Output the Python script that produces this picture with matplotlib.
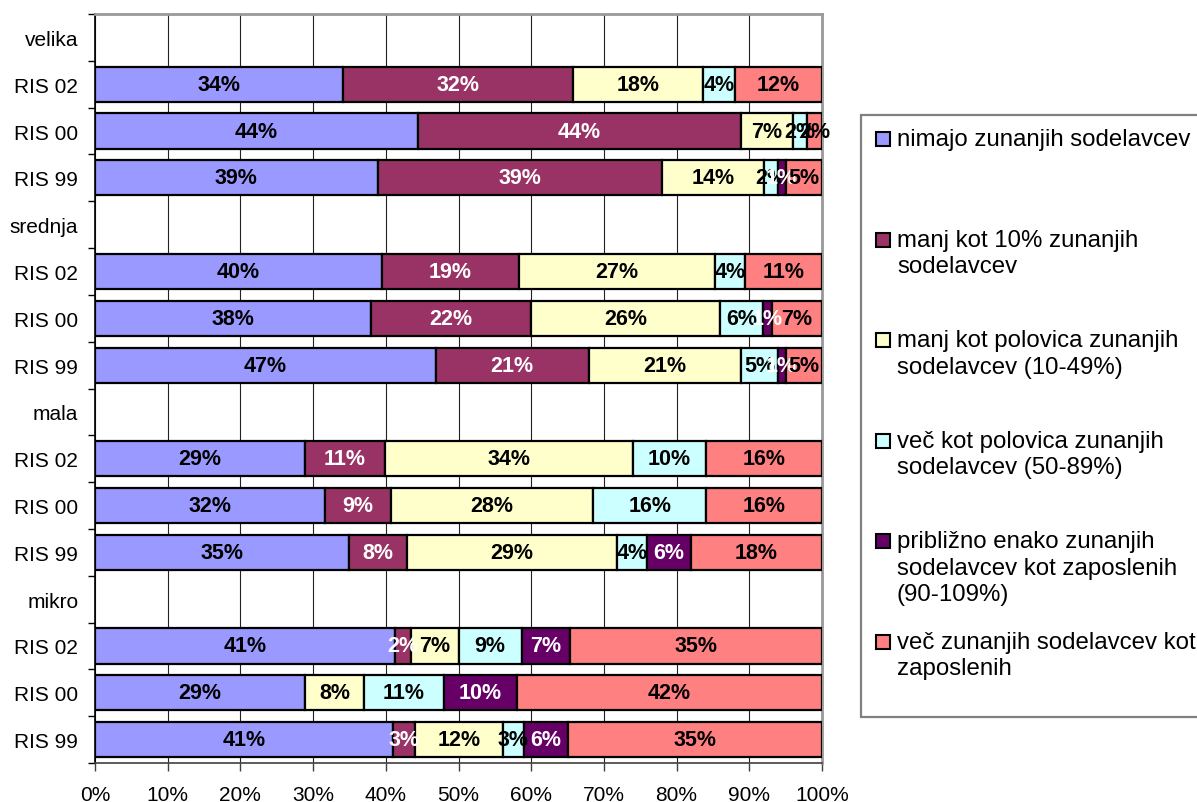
import matplotlib
matplotlib.use("Agg")
import matplotlib.pyplot as plt
from matplotlib.patches import Rectangle
from matplotlib.ticker import FuncFormatter, FixedLocator
import numpy as np

plt.rcParams['font.family'] = ['Liberation Sans', 'DejaVu Sans']

row_labels = ['velika', 'RIS 02', 'RIS 00', 'RIS 99',
              'srednja', 'RIS 02', 'RIS 00', 'RIS 99',
              'mala', 'RIS 02', 'RIS 00', 'RIS 99',
              'mikro', 'RIS 02', 'RIS 00', 'RIS 99']

series_names = ['nimajo zunanjih sodelavcev',
                'manj kot 10% zunanjih\nsodelavcev',
                'manj kot polovica zunanjih\nsodelavcev (10-49%)',
                'več kot polovica zunanjih\nsodelavcev (50-89%)',
                'približno enako zunanjih\nsodelavcev kot zaposlenih\n(90-109%)',
                'več zunanjih sodelavcev kot\nzaposlenih']

nimajo      = [0, 34.1, 44.4, 38.9, 0, 39.5, 38.0, 46.9, 0, 28.9, 31.6, 34.9, 0, 41.3, 28.9, 41.0]
manj10      = [0, 31.6, 44.4, 39.1, 0, 18.8, 22.0, 21.0, 0, 11.0, 9.1, 8.0, 0, 2.1, 0.0, 3.0]
polovica    = [0, 17.9, 7.2, 14.0, 0, 27.0, 26.0, 21.0, 0, 34.1, 27.8, 28.9, 0, 6.6, 8.1, 12.1]
vec_pol     = [0, 4.4, 1.9, 1.9, 0, 4.1, 5.9, 5.0, 0, 10.0, 15.6, 4.1, 0, 8.7, 11.0, 2.9]
priblizno   = [0, 0.0, 0.0, 1.1, 0, 0.0, 1.2, 1.1, 0, 0.0, 0.0, 6.1, 0, 6.7, 10.0, 6.0]
vec_zun     = [0, 12.0, 2.1, 5.0, 0, 10.6, 6.9, 5.0, 0, 16.0, 15.9, 18.0, 0, 34.6, 42.0, 35.0]

series = [nimajo, manj10, polovica, vec_pol, priblizno, vec_zun]
colors = ['#9999FF', '#993366', '#FFFFCC', '#CCFFFF', '#660066', '#FF8080']
text_colors = ['black', 'white', 'black', 'black', 'white', 'black']

W, H = 1197, 803
fig = plt.figure(figsize=(W / 100, H / 100), dpi=100)
ax = fig.add_axes([95 / W, 1 - 764 / H, (822 - 95) / W, (764 - 15) / H])

y = np.arange(len(row_labels))
left = np.zeros(len(row_labels))
for vals, col, tcol in zip(series, colors, text_colors):
    vals = np.array(vals, dtype=float)
    mask = vals > 0
    ax.barh(y[mask], vals[mask], left=left[mask], height=0.75, color=col,
            edgecolor='black', linewidth=1.6, zorder=3)
    for yi, v, l in zip(y[mask], vals[mask], left[mask]):
        ax.text(l + v / 2, yi, f'{int(round(v))}%', ha='center', va='center',
                fontsize=15.5, fontweight='bold', color=tcol, zorder=5)
    left += vals

ax.set_xlim(0, 100)
ax.set_ylim(len(row_labels) - 0.5, -0.5)

ax.xaxis.set_major_locator(FixedLocator(np.arange(0, 101, 10)))
ax.xaxis.set_major_formatter(FuncFormatter(lambda v, p: f'{int(v)}%'))
ax.tick_params(axis='x', direction='out', length=6, width=1, labelsize=15, pad=10, color='#404040')

ax.yaxis.set_major_locator(FixedLocator(np.arange(-0.5, len(row_labels), 1)))
ax.yaxis.set_major_formatter(FuncFormatter(lambda v, p: ''))
ax.yaxis.set_minor_locator(FixedLocator(y))
ax.set_yticklabels(row_labels, minor=True)
ax.tick_params(axis='y', which='major', direction='out', length=5, width=1, color='black')
ax.tick_params(axis='y', which='minor', length=0, labelsize=15, pad=12)

ax.xaxis.grid(True, color='#222222', linewidth=0.8, zorder=0)
ax.set_axisbelow(True)

ax.spines['left'].set_color('black')
ax.spines['left'].set_linewidth(1.2)
ax.spines['bottom'].set_color('#404040')
ax.spines['bottom'].set_linewidth(1.2)
for s in ('top', 'right'):
    ax.spines[s].set_color('#999999')
    ax.spines[s].set_linewidth(2)

# Legend (manual, Excel-like layout)
def fx(px):
    return px / W

def fy(px):
    return 1 - px / H

fig.patches.append(Rectangle((fx(861), fy(718)), fx(1220) - fx(861), fy(116) - fy(718),
                             transform=fig.transFigure, facecolor='white',
                             edgecolor='#808080', linewidth=1.6, zorder=1))
entry_step = 100.6
line_step = 26.5
for i, (name, col) in enumerate(zip(series_names, colors)):
    cy = 140 + i * entry_step
    fig.patches.append(Rectangle((fx(876), fy(cy + 7)), fx(14), 14 / H,
                                 transform=fig.transFigure, facecolor=col,
                                 edgecolor='black', linewidth=1.5, zorder=2))
    for k, line in enumerate(name.split('\n')):
        fig.text(fx(897), fy(cy + k * line_step), line, ha='left', va='center',
                 fontsize=17.3, color='black', zorder=3)

fig.savefig('out.png', dpi=100)
